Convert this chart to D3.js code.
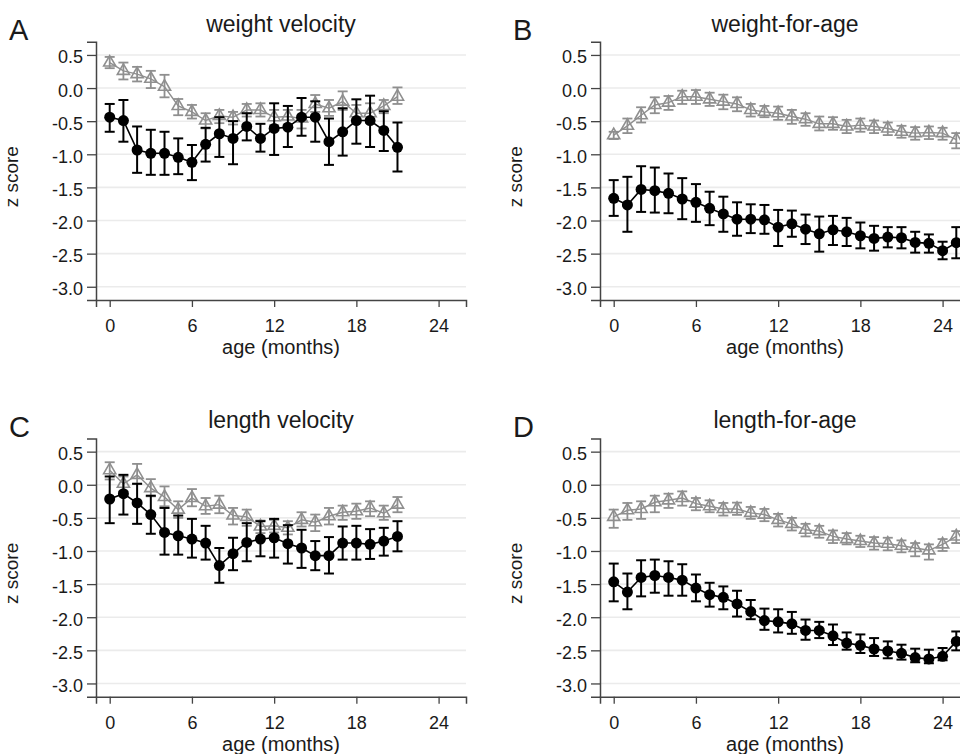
<!DOCTYPE html>
<html>
<head>
<meta charset="utf-8">
<script src="https://cdn.jsdelivr.net/npm/d3@7"></script>
<style>
  body { margin: 0; background: #fff; }
  text { font-family: "Liberation Sans", Arial, sans-serif; fill: #1a1a1a; }
</style>
</head>
<body>
<svg id="chart" width="960" height="754"></svg>
<script>
// x categories (age in months)
const monthsVel = [0,1,2,3,4,5,6,7,8,9,10,11,12,13,14,15,16,17,18,19,20,21];
const monthsAge = [0,1,2,3,4,5,6,7,8,9,10,11,12,13,14,15,16,17,18,19,20,21,22,23,24,25];
const yTicks = [0.5, 0, -0.5, -1, -1.5, -2, -2.5, -3];
const xTicks = [0, 6, 12, 18, 24];

// A: weight velocity
const wvDark   = [-0.44,-0.49,-0.935,-0.985,-0.985,-1.045,-1.12,-0.85,-0.69,-0.76,-0.58,-0.76,-0.61,-0.59,-0.44,-0.44,-0.81,-0.66,-0.49,-0.49,-0.64,-0.895];
const wvDarkHi = [-0.24,-0.18,-0.58,-0.63,-0.66,-0.76,-0.86,-0.6,-0.44,-0.5,-0.38,-0.54,-0.23,-0.27,-0.15,-0.2,-0.46,-0.305,-0.17,-0.115,-0.35,-0.52];
const wvDarkLo = [-0.66,-0.81,-1.28,-1.31,-1.31,-1.30,-1.39,-1.11,-1.04,-1.15,-0.79,-0.96,-1.01,-0.89,-0.72,-0.81,-1.16,-1.02,-0.84,-0.89,-0.95,-1.26];
const wvGrey   = [0.385,0.26,0.21,0.14,0.02,-0.27,-0.36,-0.49,-0.42,-0.44,-0.33,-0.33,-0.44,-0.43,-0.46,-0.24,-0.305,-0.205,-0.38,-0.38,-0.27,-0.13];
const wvGreyHi = [0.47,0.385,0.32,0.26,0.2,-0.165,-0.255,-0.38,-0.33,-0.36,-0.24,-0.23,-0.33,-0.33,-0.33,-0.105,-0.18,-0.05,-0.255,-0.23,-0.18,0.01];
const wvGreyLo = [0.30,0.13,0.10,0.0,-0.14,-0.41,-0.46,-0.61,-0.53,-0.55,-0.43,-0.43,-0.56,-0.55,-0.61,-0.36,-0.42,-0.33,-0.51,-0.53,-0.38,-0.24];

// B: weight-for-age
const waDark   = [-1.665,-1.765,-1.53,-1.55,-1.59,-1.675,-1.725,-1.815,-1.90,-1.98,-1.98,-1.99,-2.10,-2.05,-2.13,-2.20,-2.14,-2.17,-2.23,-2.27,-2.25,-2.26,-2.33,-2.345,-2.455,-2.335];
const waDarkHi = [-1.39,-1.34,-1.18,-1.2,-1.29,-1.36,-1.45,-1.565,-1.64,-1.725,-1.755,-1.765,-1.84,-1.85,-1.91,-1.94,-1.93,-1.96,-2.03,-2.08,-2.10,-2.10,-2.17,-2.21,-2.32,-2.10];
const waDarkLo = [-1.93,-2.17,-1.87,-1.88,-1.89,-1.98,-2.02,-2.07,-2.17,-2.23,-2.19,-2.20,-2.385,-2.245,-2.355,-2.47,-2.37,-2.385,-2.42,-2.455,-2.405,-2.42,-2.485,-2.485,-2.585,-2.57];
const waGrey   = [-0.71,-0.57,-0.41,-0.255,-0.22,-0.13,-0.13,-0.17,-0.205,-0.24,-0.33,-0.36,-0.38,-0.43,-0.47,-0.54,-0.54,-0.58,-0.56,-0.58,-0.61,-0.66,-0.68,-0.67,-0.68,-0.78];
const waGreyHi = [-0.66,-0.46,-0.29,-0.14,-0.12,-0.04,-0.03,-0.07,-0.1,-0.14,-0.24,-0.27,-0.28,-0.33,-0.38,-0.43,-0.44,-0.48,-0.46,-0.49,-0.52,-0.57,-0.59,-0.58,-0.6,-0.68];
const waGreyLo = [-0.77,-0.68,-0.52,-0.38,-0.33,-0.24,-0.24,-0.27,-0.32,-0.35,-0.43,-0.44,-0.48,-0.54,-0.57,-0.64,-0.63,-0.68,-0.66,-0.68,-0.71,-0.75,-0.78,-0.77,-0.78,-0.91];

// C: length velocity
const lvDark   = [-0.215,-0.135,-0.275,-0.45,-0.72,-0.77,-0.82,-0.88,-1.22,-1.04,-0.87,-0.82,-0.80,-0.89,-0.955,-1.07,-1.07,-0.88,-0.88,-0.90,-0.85,-0.78];
const lvDarkHi = [0.125,0.15,0.015,-0.165,-0.35,-0.465,-0.515,-0.62,-0.955,-0.80,-0.58,-0.55,-0.515,-0.61,-0.68,-0.85,-0.79,-0.63,-0.62,-0.67,-0.65,-0.55];
const lvDarkLo = [-0.58,-0.45,-0.59,-0.74,-1.055,-1.055,-1.10,-1.13,-1.48,-1.29,-1.155,-1.08,-1.10,-1.19,-1.255,-1.29,-1.34,-1.13,-1.13,-1.12,-1.07,-1.005];
const lvGrey   = [0.22,0.015,0.15,-0.05,-0.185,-0.375,-0.20,-0.325,-0.30,-0.465,-0.485,-0.63,-0.62,-0.65,-0.53,-0.565,-0.475,-0.415,-0.40,-0.35,-0.43,-0.30];
const lvGreyHi = [0.34,0.125,0.315,0.085,-0.025,-0.25,-0.065,-0.2,-0.165,-0.35,-0.375,-0.54,-0.53,-0.55,-0.415,-0.45,-0.35,-0.315,-0.285,-0.25,-0.315,-0.185];
const lvGreyLo = [0.08,-0.10,0.015,-0.175,-0.325,-0.50,-0.325,-0.44,-0.43,-0.60,-0.62,-0.73,-0.72,-0.75,-0.63,-0.70,-0.60,-0.53,-0.515,-0.475,-0.53,-0.415];

// D: length-for-age
const laDark   = [-1.466,-1.62,-1.40,-1.37,-1.40,-1.44,-1.56,-1.66,-1.70,-1.80,-1.915,-2.05,-2.07,-2.10,-2.20,-2.20,-2.28,-2.39,-2.425,-2.48,-2.51,-2.545,-2.61,-2.63,-2.59,-2.365];
const laDarkHi = [-1.19,-1.34,-1.14,-1.13,-1.155,-1.20,-1.355,-1.48,-1.535,-1.60,-1.74,-1.87,-1.88,-1.92,-2.035,-2.07,-2.11,-2.23,-2.26,-2.315,-2.365,-2.415,-2.475,-2.49,-2.465,-2.215];
const laDarkLo = [-1.76,-1.88,-1.685,-1.63,-1.675,-1.675,-1.76,-1.84,-1.88,-1.99,-2.03,-2.19,-2.23,-2.25,-2.34,-2.315,-2.42,-2.49,-2.54,-2.585,-2.62,-2.64,-2.68,-2.695,-2.65,-2.50];
const laGrey   = [-0.485,-0.385,-0.365,-0.265,-0.235,-0.20,-0.285,-0.325,-0.365,-0.365,-0.425,-0.45,-0.53,-0.59,-0.68,-0.70,-0.78,-0.82,-0.85,-0.88,-0.89,-0.92,-0.955,-0.99,-0.90,-0.78];
const laGreyHi = [-0.375,-0.275,-0.25,-0.165,-0.135,-0.10,-0.2,-0.235,-0.275,-0.27,-0.335,-0.365,-0.44,-0.50,-0.59,-0.62,-0.69,-0.73,-0.77,-0.79,-0.80,-0.84,-0.88,-0.90,-0.82,-0.70];
const laGreyLo = [-0.65,-0.53,-0.515,-0.415,-0.35,-0.315,-0.385,-0.415,-0.465,-0.455,-0.515,-0.55,-0.63,-0.69,-0.78,-0.80,-0.88,-0.90,-0.94,-0.98,-0.99,-1.02,-1.08,-1.13,-1.0,-0.88];

const PLOT = { left: 96, top: 41.7, width: 370, height: 258.3 };
const GREY = "#8f8f8f";

const panels = [
  { letter: "A", title: "weight velocity", months: monthsVel, dx: 0,   dy: 0,
    dark: [wvDark, wvDarkLo, wvDarkHi], grey: [wvGrey, wvGreyLo, wvGreyHi] },
  { letter: "B", title: "weight-for-age",  months: monthsAge, dx: 504, dy: 0,
    dark: [waDark, waDarkLo, waDarkHi], grey: [waGrey, waGreyLo, waGreyHi] },
  { letter: "C", title: "length velocity", months: monthsVel, dx: 0,   dy: 396.7,
    dark: [lvDark, lvDarkLo, lvDarkHi], grey: [lvGrey, lvGreyLo, lvGreyHi] },
  { letter: "D", title: "length-for-age",  months: monthsAge, dx: 504, dy: 396.7,
    dark: [laDark, laDarkLo, laDarkHi], grey: [laGrey, laGreyLo, laGreyHi] }
];

const svg = d3.select("#chart");

const x = d3.scaleLinear().domain([-1, 26]).range([0, PLOT.width]);
const y = d3.scaleLinear().domain([-3.2, 0.7]).range([PLOT.height, 0]);

function toRows(months, series) {
  return months.map((m, i) => ({ m: m, v: series[0][i], lo: series[1][i], hi: series[2][i] }));
}

function drawSeries(g, rows, colour, width, marker) {
  g.append("path")
    .datum(rows)
    .attr("fill", "none")
    .attr("stroke", colour)
    .attr("stroke-width", width * 0.8)
    .attr("d", d3.line().x(d => x(d.m)).y(d => y(d.v)));

  const bars = g.append("g").attr("stroke", colour).attr("stroke-width", width);
  bars.selectAll("line.ci")
    .data(rows).enter().append("line")
    .attr("x1", d => x(d.m)).attr("x2", d => x(d.m))
    .attr("y1", d => y(d.hi)).attr("y2", d => y(d.lo));
  bars.selectAll("line.capHi")
    .data(rows).enter().append("line")
    .attr("x1", d => x(d.m) - 5).attr("x2", d => x(d.m) + 5)
    .attr("y1", d => y(d.hi)).attr("y2", d => y(d.hi));
  bars.selectAll("line.capLo")
    .data(rows).enter().append("line")
    .attr("x1", d => x(d.m) - 5).attr("x2", d => x(d.m) + 5)
    .attr("y1", d => y(d.lo)).attr("y2", d => y(d.lo));

  if (marker === "circle") {
    g.selectAll("circle")
      .data(rows).enter().append("circle")
      .attr("cx", d => x(d.m)).attr("cy", d => y(d.v))
      .attr("r", 5.5).attr("fill", colour);
  } else {
    g.selectAll("path.tri")
      .data(rows).enter().append("path")
      .attr("class", "tri")
      .attr("transform", d => "translate(" + x(d.m) + "," + y(d.v) + ")")
      .attr("d", d3.symbol(d3.symbolTriangle, 64))
      .attr("fill", "none")
      .attr("stroke", colour)
      .attr("stroke-width", 1.6);
  }
}

panels.forEach(p => {
  const root = svg.append("g").attr("transform", "translate(" + p.dx + "," + p.dy + ")");

  root.append("text")
    .attr("x", 9).attr("y", 40)
    .style("font-size", "29px")
    .text(p.letter);

  const g = root.append("g").attr("transform", "translate(" + PLOT.left + "," + PLOT.top + ")");

  g.append("text")
    .attr("x", PLOT.width / 2).attr("y", -10)
    .attr("text-anchor", "middle")
    .style("font-size", "23px")
    .text(p.title);

  // gridlines
  g.selectAll("line.grid")
    .data(yTicks).enter().append("line")
    .attr("x1", 0).attr("x2", PLOT.width)
    .attr("y1", d => y(d)).attr("y2", d => y(d))
    .attr("stroke", "#ebebeb").attr("stroke-width", 1.6);

  // axes
  const yAxis = g.append("g")
    .call(d3.axisLeft(y).tickValues(yTicks).tickSizeOuter(0).tickSize(9).tickPadding(4)
      .tickFormat(d => d.toFixed(1)));
  const xAxis = g.append("g")
    .attr("transform", "translate(0," + PLOT.height + ")")
    .call(d3.axisBottom(x).tickValues(xTicks).tickSizeOuter(0).tickSize(7).tickPadding(8));

  [yAxis, xAxis].forEach(a => {
    a.select(".domain").attr("stroke", "#444").attr("stroke-width", 1.5);
    a.selectAll(".tick line").attr("stroke", "#444").attr("stroke-width", 1.3);
    a.selectAll(".tick text")
      .attr("fill", "#1a1a1a")
      .style("font-size", "18px")
      .style("font-family", "'Liberation Sans', Arial, sans-serif");
  });
  yAxis.selectAll(".tick text").attr("dy", "8px");
  xAxis.selectAll(".tick text").attr("dy", "17px");

  g.append("text")
    .attr("x", PLOT.width / 2).attr("y", PLOT.height + 54)
    .attr("text-anchor", "middle")
    .style("font-size", "20px")
    .text("age (months)");

  g.append("text")
    .attr("transform", "translate(" + (18 - PLOT.left) + "," + (135) + ") rotate(-90)")
    .attr("text-anchor", "middle")
    .style("font-size", "19px")
    .text("z score");

  drawSeries(g.append("g"), toRows(p.months, p.grey), GREY, 1.8, "triangle");
  drawSeries(g.append("g"), toRows(p.months, p.dark), "#000", 2, "circle");
});
</script>
</body>
</html>
